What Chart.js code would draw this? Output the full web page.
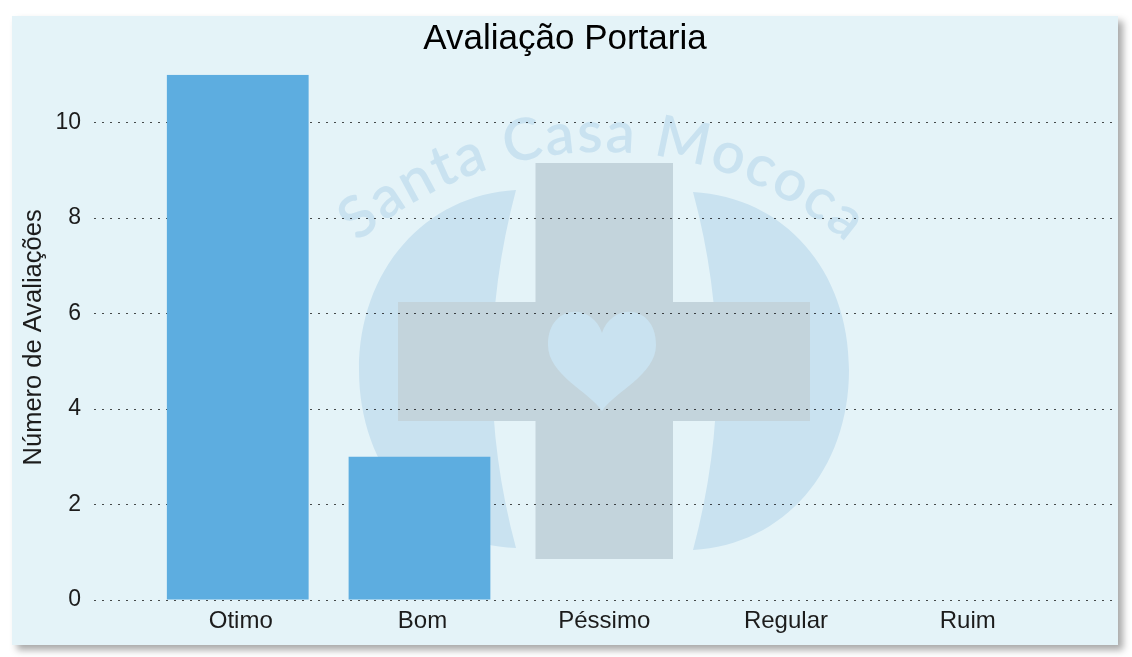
<!DOCTYPE html>
<html lang="pt">
<head>
<meta charset="utf-8">
<title>Avaliação Portaria</title>
<script src="https://cdn.jsdelivr.net/npm/chart.js@4"></script>
<style>
html,body{margin:0;padding:0;background:#fff;width:1132px;height:657px;overflow:hidden}
#panel{position:absolute;left:12px;top:16px;width:1106px;height:629px;background:#e4f3f8;box-shadow:5px 5px 7px #a9a9a9}
#wrap{position:absolute;left:0;top:0;width:1132px;height:657px;filter:blur(0.45px)}
</style>
</head>
<body>
<div id="panel"></div>
<div id="wrap"><canvas id="c" width="1132" height="657"></canvas></div>
<script>
const chartTitle = 'Avaliação Portaria';
const yAxisTitle = 'Número de Avaliações';
const categories = ['Otimo', 'Bom', 'Péssimo', 'Regular', 'Ruim'];
const avaliacoes = [11, 3, 0, 0, 0];
const watermarkText = 'Santa Casa Mococa';

const FONT = '"Liberation Sans", Arial, sans-serif';
const INK = '#1c1c1c';

const watermark = {
  id: 'watermark',
  beforeDraw(chart) {
    const g = chart.ctx;
    const blue = '#c9e2f0';
    g.save();
    g.fillStyle = blue;
    g.beginPath();
    g.moveTo(516, 190);
    g.bezierCurveTo(425, 195, 359, 270, 359, 370);
    g.bezierCurveTo(359, 470, 425, 545, 516, 548);
    g.quadraticCurveTo(468, 370, 516, 190);
    g.fill();
    g.beginPath();
    g.moveTo(693, 192);
    g.bezierCurveTo(784, 197, 849, 270, 849, 370);
    g.bezierCurveTo(849, 470, 784, 545, 693, 550);
    g.quadraticCurveTo(741, 370, 693, 192);
    g.fill();
    g.fillStyle = '#c3d4dc';
    g.fillRect(535.5, 163, 137.5, 396);
    g.fillRect(398, 302, 412, 119);
    g.fillStyle = blue;
    g.beginPath();
    g.moveTo(602, 333);
    g.bezierCurveTo(592, 302, 548, 304, 548, 345);
    g.bezierCurveTo(548, 375, 590, 392, 602, 411);
    g.bezierCurveTo(614, 392, 656, 375, 656, 345);
    g.bezierCurveTo(656, 304, 612, 302, 602, 333);
    g.fill();
    g.fillStyle = blue;
    g.font = '600 58px Lato, "Noto Sans", sans-serif';
    g.textAlign = 'left';
    g.textBaseline = 'alphabetic';
    const cx = 602, cy = 527, R = 375;
    const chars = [...watermarkText];
    const widths = chars.map(ch => g.measureText(ch).width + 2);
    const total = widths.reduce((a, b) => a + b, 0);
    let s = -total / 2;
    chars.forEach((ch, i) => {
      const a = (s + widths[i] / 2) / R;
      g.save();
      g.translate(cx + R * Math.sin(a), cy - R * Math.cos(a));
      g.rotate(a);
      g.fillText(ch, -widths[i] / 2 + 1, 0);
      g.restore();
      s += widths[i];
    });
    g.restore();
  }
};

new Chart(document.getElementById('c'), {
  type: 'bar',
  data: {
    datasets: [{
      label: yAxisTitle,
      data: categories.map((c, i) => ({ x: i, y: avaliacoes[i] })),
      backgroundColor: '#5dade0',
      borderWidth: 0,
      categoryPercentage: 1,
      barPercentage: 0.78
    }]
  },
  plugins: [watermark],
  options: {
    responsive: false,
    animation: false,
    devicePixelRatio: 1,
    layout: { padding: { left: 15, right: 17, top: 18, bottom: 0 } },
    plugins: {
      legend: { display: false },
      tooltip: { enabled: false },
      title: {
        display: true,
        text: chartTitle,
        color: '#000',
        font: { family: FONT, size: 35, weight: 'normal', lineHeight: 1.2 },
        padding: { top: 0, bottom: 14.75 }
      }
    },
    scales: {
      x: {
        type: 'linear',
        offset: false,
        min: -0.791,
        max: 4.827,
        grid: { display: false, drawTicks: false, offset: false },
        border: { display: false },
        afterBuildTicks(scale) { scale.ticks = categories.map((c, i) => ({ value: i })); },
        afterFit(scale) { scale.height = 57; },
        ticks: {
          autoSkip: false,
          maxRotation: 0,
          labelOffset: 3,
          padding: 7,
          color: INK,
          font: { family: FONT, size: 24 },
          callback: v => categories[v]
        }
      },
      y: {
        min: 0,
        max: 11,
        afterFit(scale) { scale.width = 79; },
        border: { display: false, dash: [2, 6] },
        grid: {
          color: 'rgba(0,0,0,0.7)',
          lineWidth: 1,
          drawTicks: false
        },
        title: {
          display: true,
          text: yAxisTitle,
          color: INK,
          font: { family: FONT, size: 25.5, lineHeight: 1.2 },
          padding: { top: 4, bottom: 0 }
        },
        ticks: {
          stepSize: 2,
          includeBounds: false,
          padding: 13,
          color: INK,
          font: { family: FONT, size: 23 }
        }
      }
    }
  }
});
</script>
</body>
</html>
